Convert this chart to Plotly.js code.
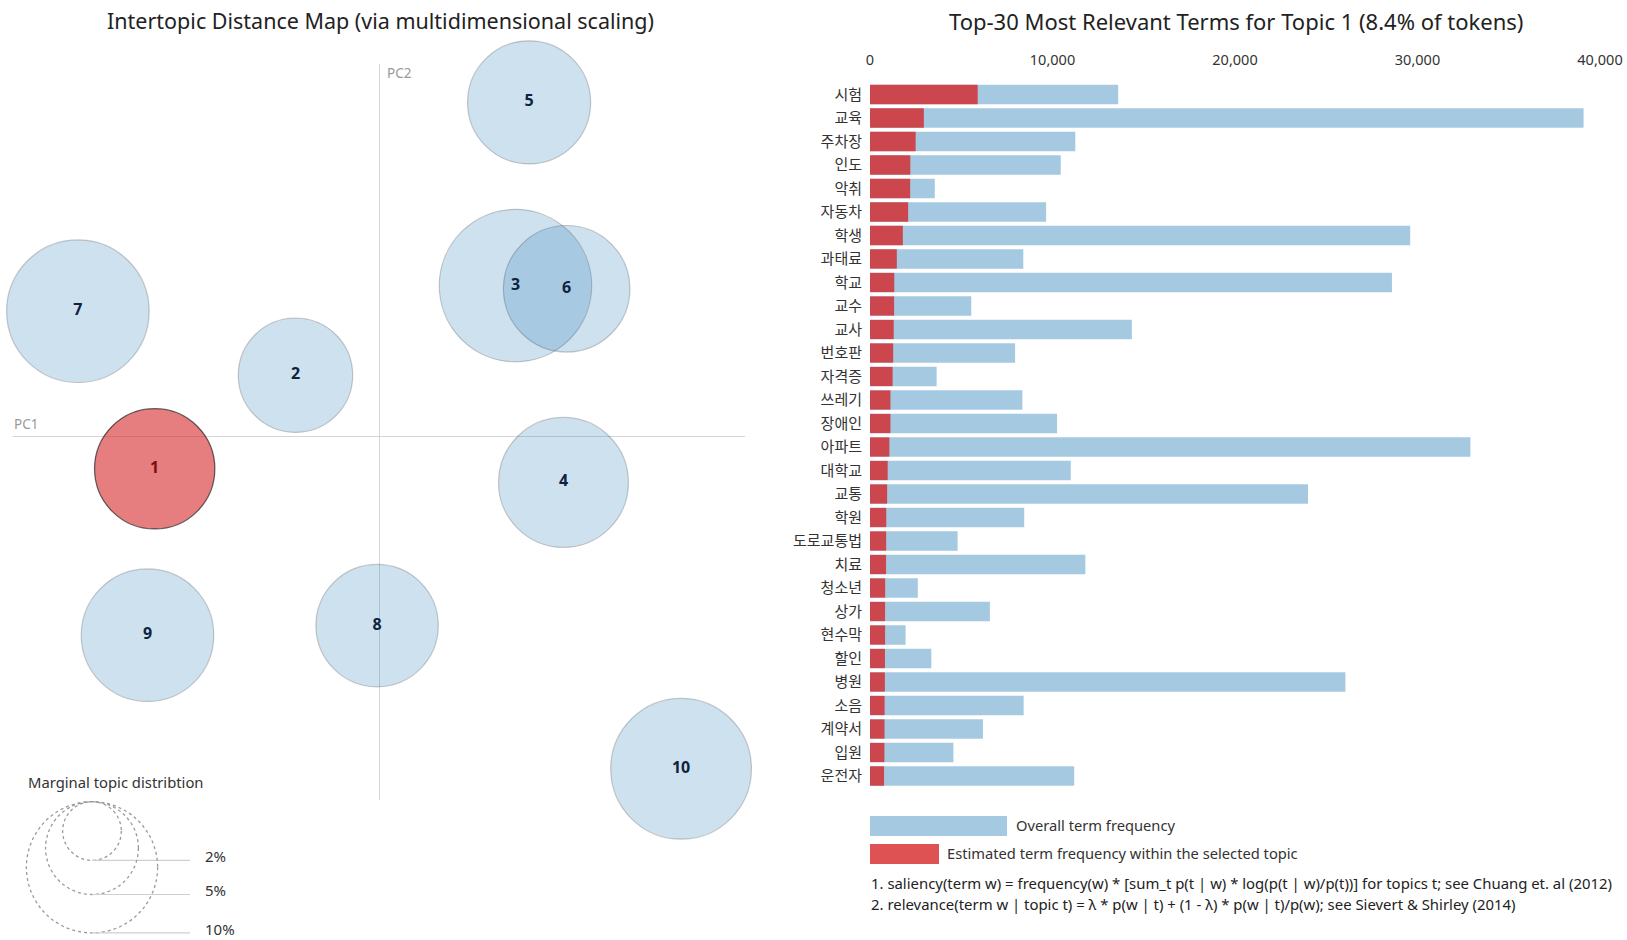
<!DOCTYPE html>
<html>
<head>
<meta charset="utf-8">
<script src="https://cdn.plot.ly/plotly-3.0.1.min.js"></script>
<style>
  html, body { margin: 0; padding: 0; background: #ffffff; }
  #chart { width: 1627px; height: 940px; }
</style>
</head>
<body>
<div id="chart"></div>
<script>
// ---------- Data: intertopic distance map ----------
const topicIds   = ['1', '2', '3', '4', '5', '6', '7', '8', '9', '10'];
const topicPC1   = [-0.281, -0.105, 0.170, 0.230, 0.187, 0.234, -0.377, -0.003, -0.290, 0.377];
const topicPC2   = [-0.041, 0.076, 0.188, -0.058, 0.417, 0.184, 0.156, -0.237, -0.249, -0.416];
const topicShare = [8.4, 7.6, 13.5, 9.8, 8.8, 9.3, 11.8, 8.7, 10.2, 11.5]; // % of tokens
const selectedTopic = '1';
const legendShares = [2, 5, 10];
const legendLabels = ['2%', '5%', '10%'];

// ---------- Data: top-30 relevant terms for topic 1 ----------
const terms = ['시험', '교육', '주차장', '인도', '악취', '자동차', '학생', '과태료', '학교', '교수',
               '교사', '번호판', '자격증', '쓰레기', '장애인', '아파트', '대학교', '교통', '학원', '도로교통법',
               '치료', '청소년', '상가', '현수막', '할인', '병원', '소음', '계약서', '입원', '운전자'];
const overallFreq = [13600, 39100, 11250, 10450, 3550, 9650, 29600, 8400, 28600, 5550,
                     14350, 7950, 3650, 8350, 10250, 32900, 11000, 24000, 8450, 4800,
                     11800, 2620, 6570, 1950, 3360, 26050, 8420, 6190, 4570, 11190];
const topicFreq   = [5900, 2950, 2500, 2210, 2200, 2090, 1800, 1470, 1330, 1320,
                     1300, 1270, 1240, 1120, 1120, 1060, 970, 940, 890, 885,
                     880, 830, 825, 825, 820, 815, 800, 795, 790, 770];
const freqTicks = [0, 10000, 20000, 30000, 40000];
const chartTitleLeft  = 'Intertopic Distance Map (via multidimensional scaling)';
const chartTitleRight = 'Top-30 Most Relevant Terms for Topic 1 (8.4% of tokens)';

// ---------- Rendering ----------
const W = 1627, H = 940;
const px = x => x / W;            // pixel x -> paper
const py = y => (H - y) / H;      // pixel y (from top) -> paper
const RADIUS_PER_SQRT_PCT = 20.75; // circle radius (px) per sqrt(% share)
const FONT = '"Noto Sans", "Noto Sans CJK KR", sans-serif';

const blue = 'rgba(31,119,180,0.22)';
const red  = 'rgba(214,39,40,0.6)';

const circles = {
  type: 'scatter', mode: 'markers+text',
  x: topicPC1, y: topicPC2, text: topicIds,
  xaxis: 'x', yaxis: 'y', cliponaxis: false, hoverinfo: 'text',
  textposition: 'middle center',
  textfont: {family: FONT, size: 16, weight: 'bold',
             color: topicIds.map(t => t === selectedTopic ? '#7a0f10' : '#0e2340')},
  marker: {
    sizemode: 'diameter', opacity: 1,
    size: topicShare.map(p => 2 * RADIUS_PER_SQRT_PCT * Math.sqrt(p)),
    color: topicIds.map(t => t === selectedTopic ? red : blue),
    line: {width: 1.2, color: topicIds.map(t => t === selectedTopic ? 'rgba(0,0,0,0.6)' : 'rgba(0,0,0,0.2)')}
  }
};

const overallBars = {
  type: 'bar', orientation: 'h', y: terms, x: overallFreq,
  xaxis: 'x2', yaxis: 'y2', hoverinfo: 'x+y',
  marker: {color: 'rgba(31,119,180,0.4)'}
};
const topicBars = {
  type: 'bar', orientation: 'h', y: terms, x: topicFreq,
  xaxis: 'x2', yaxis: 'y2', hoverinfo: 'x+y',
  marker: {color: 'rgba(214,39,40,0.8)'}
};

// marginal topic distribution legend (dotted circles sharing a top point)
const legCX = 92, legTop = 801.7;
const shapes = [];
const annotations = [];
legendShares.forEach((p, i) => {
  const r = RADIUS_PER_SQRT_PCT * Math.sqrt(p);
  shapes.push({type: 'circle', xref: 'paper', yref: 'paper',
    x0: px(legCX - r), x1: px(legCX + r), y0: py(legTop + 2 * r), y1: py(legTop),
    line: {color: '#9a9a9a', width: 1.3, dash: 'dot'}, fillcolor: 'rgba(0,0,0,0)'});
  shapes.push({type: 'line', xref: 'paper', yref: 'paper',
    x0: px(legCX), x1: px(190), y0: py(legTop + 2 * r), y1: py(legTop + 2 * r),
    line: {color: '#cfcfcf', width: 1.2}});
  annotations.push({xref: 'paper', yref: 'paper', x: px(203), y: py(legTop + 2 * r - 4),
    xanchor: 'left', yanchor: 'middle', text: legendLabels[i], showarrow: false,
    font: {family: FONT, size: 15, color: '#333'}});
});
annotations.push({xref: 'paper', yref: 'paper', x: px(26), y: py(782), xanchor: 'left', yanchor: 'middle',
  text: 'Marginal topic distribtion', showarrow: false, font: {family: FONT, size: 14.8, color: '#333'}});

// axis captions
annotations.push({xref: 'paper', yref: 'paper', x: px(12), y: py(424), xanchor: 'left', yanchor: 'middle',
  text: 'PC1', showarrow: false, font: {family: FONT, size: 13.5, color: '#999'}});
annotations.push({xref: 'paper', yref: 'paper', x: px(385), y: py(73), xanchor: 'left', yanchor: 'middle',
  text: 'PC2', showarrow: false, font: {family: FONT, size: 13.5, color: '#999'}});

// titles
annotations.push({xref: 'paper', yref: 'paper', x: px(380), y: py(21), xanchor: 'center', yanchor: 'middle',
  text: chartTitleLeft, showarrow: false, font: {family: FONT, size: 21.5, color: '#222'}});
annotations.push({xref: 'paper', yref: 'paper', x: px(1236), y: py(21), xanchor: 'center', yanchor: 'middle',
  text: chartTitleRight, showarrow: false, font: {family: FONT, size: 22, color: '#222'}});

// bar legend
shapes.push({type: 'rect', xref: 'paper', yref: 'paper', x0: px(870), x1: px(1007), y0: py(836), y1: py(816),
  line: {width: 0}, fillcolor: 'rgba(31,119,180,0.4)'});
shapes.push({type: 'rect', xref: 'paper', yref: 'paper', x0: px(870), x1: px(939), y0: py(864), y1: py(844),
  line: {width: 0}, fillcolor: 'rgba(214,39,40,0.8)'});
annotations.push({xref: 'paper', yref: 'paper', x: px(1014), y: py(825), xanchor: 'left', yanchor: 'middle',
  text: 'Overall term frequency', showarrow: false, font: {family: FONT, size: 14.7, color: '#333'}});
annotations.push({xref: 'paper', yref: 'paper', x: px(945), y: py(853), xanchor: 'left', yanchor: 'middle',
  text: 'Estimated term frequency within the selected topic', showarrow: false, font: {family: FONT, size: 14.7, color: '#333'}});
annotations.push({xref: 'paper', yref: 'paper', x: px(869), y: py(883), xanchor: 'left', yanchor: 'middle',
  text: '1. saliency(term w) = frequency(w) * [sum_t p(t | w) * log(p(t | w)/p(t))] for topics t; see Chuang et. al (2012)',
  showarrow: false, font: {family: FONT, size: 14.9, color: '#222'}});
annotations.push({xref: 'paper', yref: 'paper', x: px(869), y: py(904), xanchor: 'left', yanchor: 'middle',
  text: '2. relevance(term w | topic t) = \u03bb * p(w | t) + (1 - \u03bb) * p(w | t)/p(w); see Sievert &amp; Shirley (2014)',
  showarrow: false, font: {family: FONT, size: 14.9, color: '#222'}});

const layout = {
  width: W, height: H,
  margin: {l: 0, r: 0, t: 0, b: 0},
  paper_bgcolor: '#ffffff', plot_bgcolor: 'rgba(0,0,0,0)',
  showlegend: false,
  font: {family: FONT, color: '#333'},
  barmode: 'overlay', bargap: 0.18,
  xaxis: {domain: [px(12.7), px(745)], range: [-0.4585, 0.4569], showgrid: false, showticklabels: false,
          zeroline: true, zerolinecolor: '#d6d6d6', zerolinewidth: 1, showline: false, ticks: '', fixedrange: true},
  yaxis: {domain: [py(800), py(64)], range: [-0.455, 0.465], showgrid: false, showticklabels: false,
          zeroline: true, zerolinecolor: '#d6d6d6', zerolinewidth: 1, showline: false, ticks: '', fixedrange: true},
  xaxis2: {domain: [px(870), px(1600)], range: [0, 40000], anchor: 'y2', side: 'top',
           tickvals: freqTicks, tickformat: ',', showgrid: false, zeroline: false, showline: false,
           ticks: '', ticklabelstandoff: 14, tickfont: {family: FONT, size: 14.5, color: '#333'}},
  yaxis2: {domain: [py(787.75), py(82.75)], anchor: 'x2', type: 'category',
           categoryorder: 'array', categoryarray: terms, autorange: 'reversed',
           showgrid: false, zeroline: false, showline: false, ticks: '', ticklabelstandoff: 7,
           tickfont: {family: FONT, size: 15, color: '#333'}},
  shapes: shapes,
  annotations: annotations
};

Plotly.newPlot('chart', [circles, overallBars, topicBars], layout, {displayModeBar: false, staticPlot: true});
</script>
</body>
</html>
